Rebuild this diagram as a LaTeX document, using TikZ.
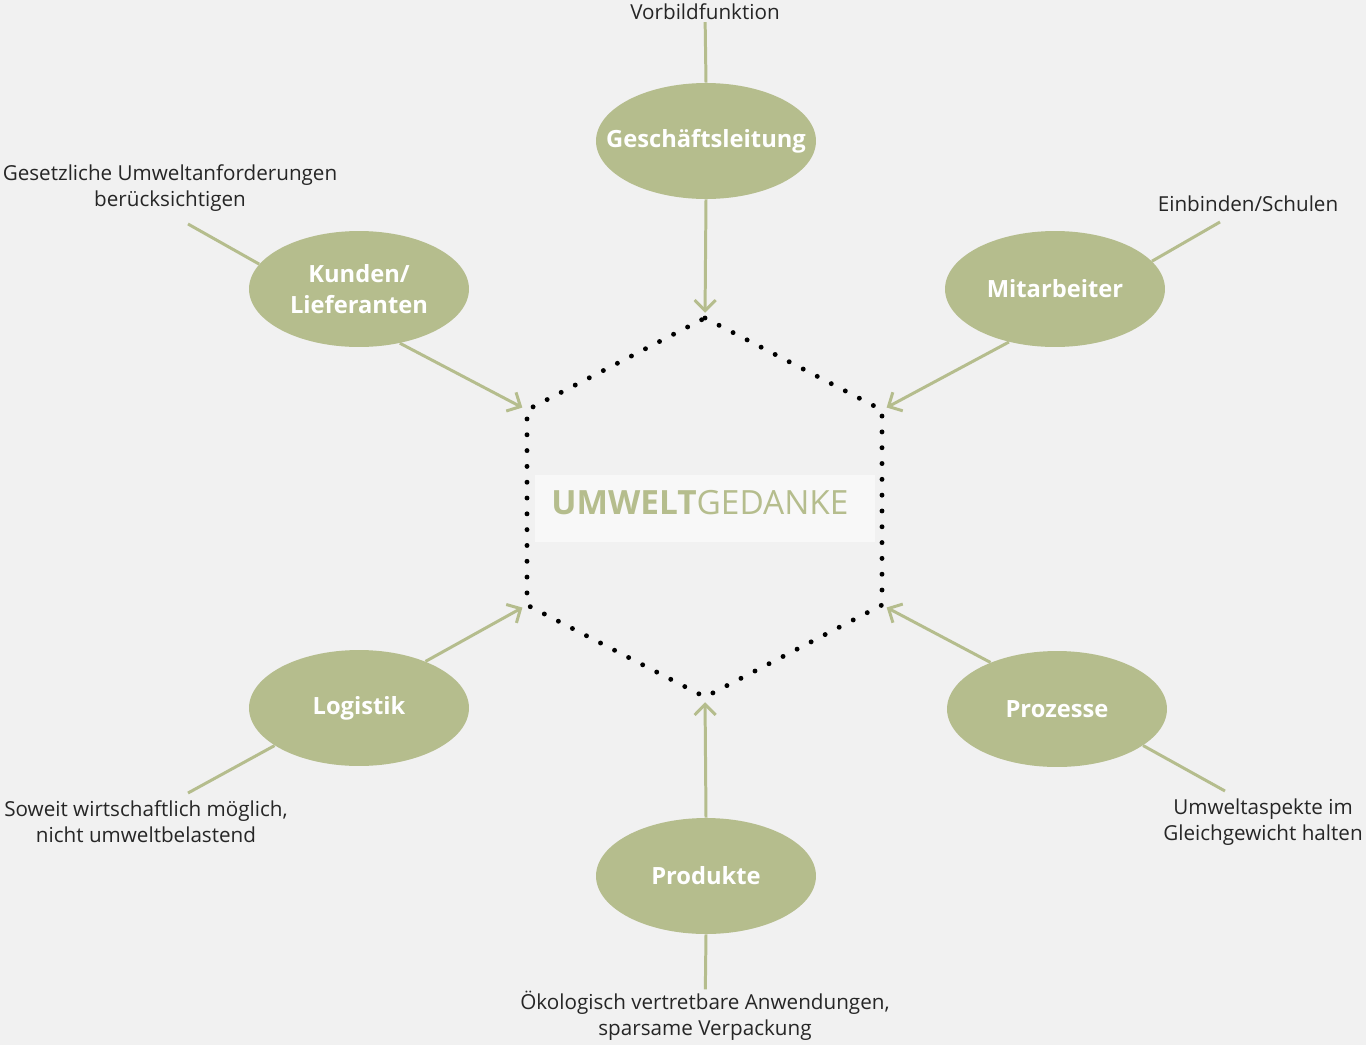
\documentclass[tikz,border=0pt]{standalone}
\usepackage{fontspec}
\setmainfont{Open Sans}
\usetikzlibrary{shapes.geometric,arrows.meta}
\definecolor{leafgreen}{HTML}{B5BD8D}
\definecolor{notegray}{HTML}{262626}
\definecolor{paper}{HTML}{F1F1F1}

\tikzset{
  bubble/.style={ellipse, fill=leafgreen, text=white, minimum width=4.4cm, minimum height=2.32cm,
    inner xsep=-40pt, inner ysep=-20pt, align=center, font=\bfseries\fontsize{13.5}{17.5}\selectfont},
  note/.style={text=notegray, align=center, inner sep=1pt, font=\fontsize{11.75}{14.7}\selectfont},
  link/.style={draw=leafgreen, line width=1.7pt},
  feed/.style={link, -{Straight Barb[length=6pt,width=12pt]}, shorten >=3pt},
  rim/.style={line width=2.8pt, line cap=round, dash pattern=on 0pt off 9pt}
}

\begin{document}
\begin{tikzpicture}[x=0.02cm, y=-0.02cm]
\fill [paper] (0,0) rectangle (1366,1045);
\useasboundingbox (0,0) rectangle (1366,1045);

% hexagon
\coordinate (hT) at (705,318);
\coordinate (hUR) at (882,410);
\coordinate (hLR) at (882,605);
\coordinate (hB) at (705,697);
\coordinate (hLL) at (527,605);
\coordinate (hUL) at (527,410);
\fill [white, opacity=.5] (535,475) rectangle (875,542);
\node [inner sep=0pt] (core) at (700,503) {\color{leafgreen}\fontsize{19}{22}\selectfont\textbf{UMWELT}GEDANKE};
\draw [rim] (hT) -- (hUR) -- (hLR) -- (hB) -- (hLL) -- (hUL) -- cycle;

% bubbles
\node [bubble] (lead) at (706,141) {Geschäftsleitung};
\node [bubble] (client) at (359,289) {Kunden/\\Lieferanten};
\node [bubble] (staff) at (1055,289) {Mitarbeiter};
\node [bubble] (logist) at (359,708) {Logistik};
\node [bubble] (process) at (1057,709) {Prozesse};
\node [bubble] (product) at (706,876) {Produkte};

% notes
\node [note] (nlead) at (705,12) {Vorbildfunktion};
\node [note] (nclient) at (170,188) {Gesetzliche Umweltanforderungen\\berücksichtigen};
\node [note] (nstaff) at (1248,204) {Einbinden/Schulen};
\node [note] (nlogist) at (146,822) {Soweit wirtschaftlich möglich,\\nicht umweltbelastend};
\node [note] (nprocess) at (1263,822) {Umweltaspekte im\\Gleichgewicht halten};
\node [note] (nproduct) at (705,1016) {Ökologisch vertretbare Anwendungen,\\sparsame Verpackung};

\coordinate (eclient) at (188,224);
\coordinate (estaff) at (1220,222);
\coordinate (elogist) at (188,793);
\coordinate (eprocess) at (1225,791);

% note lines
\draw [link] (nlead) -- (lead.north);
\draw [link] (eclient) -- (client.166);
\draw [link] (estaff) -- (staff.16);
\draw [link] (elogist) -- (logist.204);
\draw [link] (eprocess) -- (process.-23);
\draw [link] (product.south) -- (nproduct);

% arrows to the hexagon
\draw [feed] (lead.south) -- (hT);
\draw [feed] (client.-53) -- (hUL);
\draw [feed] (staff.229) -- (hUR);
\draw [feed] (logist.35) -- (hLL);
\draw [feed] (process.145) -- (hLR);
\draw [feed] (product.north) -- (hB);
\end{tikzpicture}
\end{document}
